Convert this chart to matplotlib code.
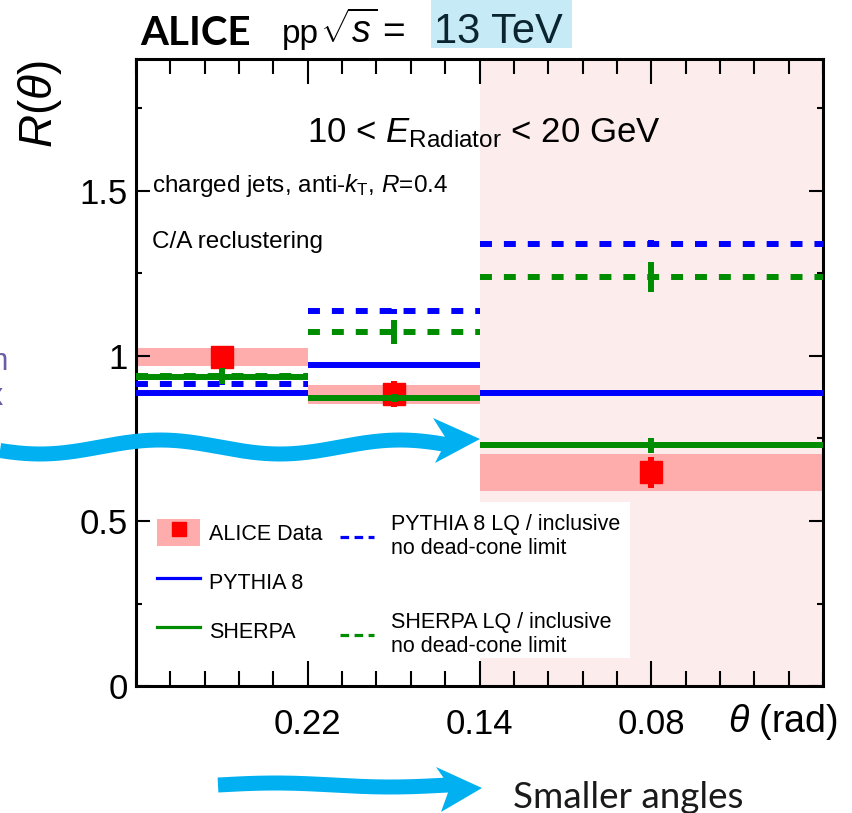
import numpy as np
import matplotlib
matplotlib.use("Agg")
import matplotlib.pyplot as plt
from matplotlib.patches import Rectangle, Polygon, Patch
from matplotlib.lines import Line2D
from matplotlib.legend_handler import HandlerTuple
from matplotlib.ticker import MultipleLocator, FixedLocator, FixedFormatter

plt.rcParams['font.family'] = ['Liberation Sans', 'DejaVu Sans']
plt.rcParams['mathtext.fontset'] = 'custom'
plt.rcParams['mathtext.rm'] = 'Liberation Sans'
plt.rcParams['mathtext.it'] = 'Liberation Sans:italic'
plt.rcParams['mathtext.bf'] = 'Liberation Sans:bold'

# angular bins (display axis, last bin is twice as wide)
bin_edges = np.array([0, 1, 2, 4])
theta_ticks = [1, 2, 3]
theta_labels = ["0.22", "0.14", "0.08"]
y_ticks = [0, 0.5, 1, 1.5]

# ALICE data
data_val = np.array([0.997, 0.884, 0.647])
data_stat = np.array([0.01, 0.039, 0.048])
data_sys = np.array([0.027, 0.028, 0.057])

# models
pythia = [0.889, 0.973, 0.889]
pythia_err = [0.003, 0.003, 0.004]
sherpa = [0.937, 0.872, 0.729]
sherpa_err = [0.006, 0.012, 0.024]
pythia_lq = [0.915, 1.135, 1.340]
pythia_lq_err = [0.004, 0.008, 0.010]
sherpa_lq = [0.940, 1.072, 1.239]
sherpa_lq_err = [0.025, 0.037, 0.045]

BLUE = '#0000ff'
GREEN = '#008c00'
BAND = '#ffacac'

W, H = 853, 813
fig = plt.figure(figsize=(W / 100, H / 100), dpi=100)
ax = fig.add_axes([136 / W, 1 - 686 / H, 687 / W, 627 / H])

centers = (bin_edges[:-1] + bin_edges[1:]) / 2
widths = np.diff(bin_edges)

# small-angle region
ax.axvspan(bin_edges[2], bin_edges[3], color='#fdecec', lw=0, zorder=0)

# data: systematic boxes + points
ax.bar(centers, 2 * data_sys, bottom=data_val - data_sys, width=widths,
       color=BAND, lw=0, zorder=1.2)
ax.errorbar(centers, data_val, yerr=data_stat, fmt='s', color='red', ms=16,
            elinewidth=4.3, capsize=0, zorder=3)

# models
dash = (0, (2, 2))
models = [(pythia, pythia_err, BLUE, '-'),
          (sherpa, sherpa_err, GREEN, '-'),
          (pythia_lq, pythia_lq_err, BLUE, dash),
          (sherpa_lq, sherpa_lq_err, GREEN, dash)]
for vals, errs, col, ls in models:
    for lo, hi, v in zip(bin_edges[:-1], bin_edges[1:], vals):
        ax.plot([lo, hi], [v, v], color=col, ls=ls, lw=4.3, zorder=4,
                solid_capstyle='butt', dash_capstyle='butt')
    ax.errorbar(centers, vals, yerr=errs, fmt='none', ecolor=col,
                elinewidth=4.3, capsize=0, zorder=4)

ax.set_xlim(bin_edges[0], bin_edges[-1])
ax.set_ylim(0, 1.9)

ax.xaxis.set_major_locator(FixedLocator(theta_ticks))
ax.xaxis.set_major_formatter(FixedFormatter(theta_labels))
ax.xaxis.set_minor_locator(MultipleLocator(0.2))
ax.yaxis.set_major_locator(FixedLocator(y_ticks))
ax.yaxis.set_major_formatter(FixedFormatter([f"{v:g}" for v in y_ticks]))
ax.yaxis.set_minor_locator(MultipleLocator(0.25))

ax.tick_params(which='both', direction='in', top=True, right=True, width=1.5)
ax.tick_params(axis='x', which='major', length=18, labelsize=25, pad=16)
ax.tick_params(axis='x', which='minor', length=11)
ax.tick_params(axis='y', which='major', length=10, labelsize=25, pad=6)
ax.tick_params(axis='y', which='minor', length=4.5)
for s in ax.spines.values():
    s.set_linewidth(2.2)

# white legend backdrop
ax.add_patch(Rectangle((0, 0.045), 0.719, 0.248, transform=ax.transAxes,
                       facecolor='white', edgecolor='none', zorder=1.5))

h_data = (Patch(facecolor=BAND, edgecolor='none'),
          Line2D([], [], ls='none', marker='s', color='red', ms=9.5))
h_py = Line2D([], [], color=BLUE, lw=2.3)
h_sh = Line2D([], [], color=GREEN, lw=2.3)
h_pylq = Line2D([], [], color=BLUE, lw=2.3, ls=(0, (2.7, 1.7)))
h_shlq = Line2D([], [], color=GREEN, lw=2.3, ls=(0, (2.7, 1.7)))

leg1 = ax.legend([h_data, h_py, h_sh], ['ALICE Data', 'PYTHIA 8', 'SHERPA'],
                 handler_map={tuple: HandlerTuple(ndivide=1)},
                 loc='upper left', bbox_to_anchor=(0.0306, 0.2664),
                 frameon=False, fontsize=15.5, borderpad=0, borderaxespad=0,
                 handlelength=2.0, handleheight=1.58, handletextpad=0.42,
                 labelspacing=1.0)
ax.add_artist(leg1)
ax.legend([h_pylq, h_shlq],
          ['PYTHIA 8 LQ / inclusive\nno dead-cone limit',
           'SHERPA LQ / inclusive\nno dead-cone limit'],
          loc='upper left', bbox_to_anchor=(0.297, 0.2743),
          frameon=False, fontsize=15.5, borderpad=0, borderaxespad=0,
          handlelength=1.6, handletextpad=0.75, labelspacing=2.45)

# text in the frame
ax.text(0.249, 0.8676, r'10 < $E_{\mathrm{Radiator}}$ < 20 GeV', size=25,
        transform=ax.transAxes, va='baseline')
ax.text(0.0233, 0.788, r'charged jets, anti-$k_{\mathrm{T}}$, $R$=0.4',
        size=17.5, transform=ax.transAxes, va='baseline')
ax.text(0.0233, 0.6986, 'C/A reclustering', size=17.5,
        transform=ax.transAxes, va='baseline')
ax.text(0.8617, -0.0574, r'$\theta$ (rad)', size=27, transform=ax.transAxes,
        va='center')

# header
def fx(x):
    return x / W

def fy(y):
    return 1 - y / H

fig.patches.append(Rectangle((fx(431), fy(48)), 141 / W, 48 / H,
                             transform=fig.transFigure, facecolor='#c7eaf7',
                             edgecolor='none', zorder=0))
fig.text(fx(140), fy(45), 'ALICE', family='Lato', weight='bold', size=29,
         va='baseline')
fig.text(fx(282), fy(43), 'pp', size=24, va='baseline')
fig.text(fx(320), fy(43), r'$\sqrt{s}$', size=27, va='baseline')
fig.text(fx(382), fy(43), '=', size=28, va='baseline')
fig.text(fx(434), fy(43), '13 TeV', size=30, va='baseline', color='#0b2530')
fig.text(fx(40), fy(104), r'$R(\theta)$', rotation=90, ha='center',
         va='center', size=33)

# clipped slide text at the left edge
fig.text(fx(-17), fy(362), 'm', color='#6a5da8', size=22, va='center')
fig.text(fx(-12), fy(397), 'x', color='#6a5da8', size=22, va='center')


# wavy arrows
def wavy_arrow(x0, x1, ymid, amp, period, phase, head):
    xs = np.linspace(x0, x1, 200)
    ys = ymid - amp * np.sin(2 * np.pi * (xs - phase) / period)
    fig.add_artist(Line2D(fx(xs), fy(ys), color='#00b0f0', lw=10.8,
                          solid_capstyle='butt', transform=fig.transFigure))
    fig.add_artist(Polygon([(fx(px), fy(py)) for px, py in head], closed=True,
                           facecolor='#00b0f0', edgecolor='none',
                           transform=fig.transFigure))

wavy_arrow(0, 448, 447, 7, 240, 100,
           [(433, 418), (480, 439), (435, 463), (447, 440)])
wavy_arrow(218, 450, 785, 2, 230, 218,
           [(436, 767), (482, 788), (441, 812), (450, 787)])
fig.text(fx(513), fy(797), 'Smaller angles', family='Lato', size=26.5,
         color='#1a1a1a', va='center')

fig.savefig('out.png', dpi=100)
